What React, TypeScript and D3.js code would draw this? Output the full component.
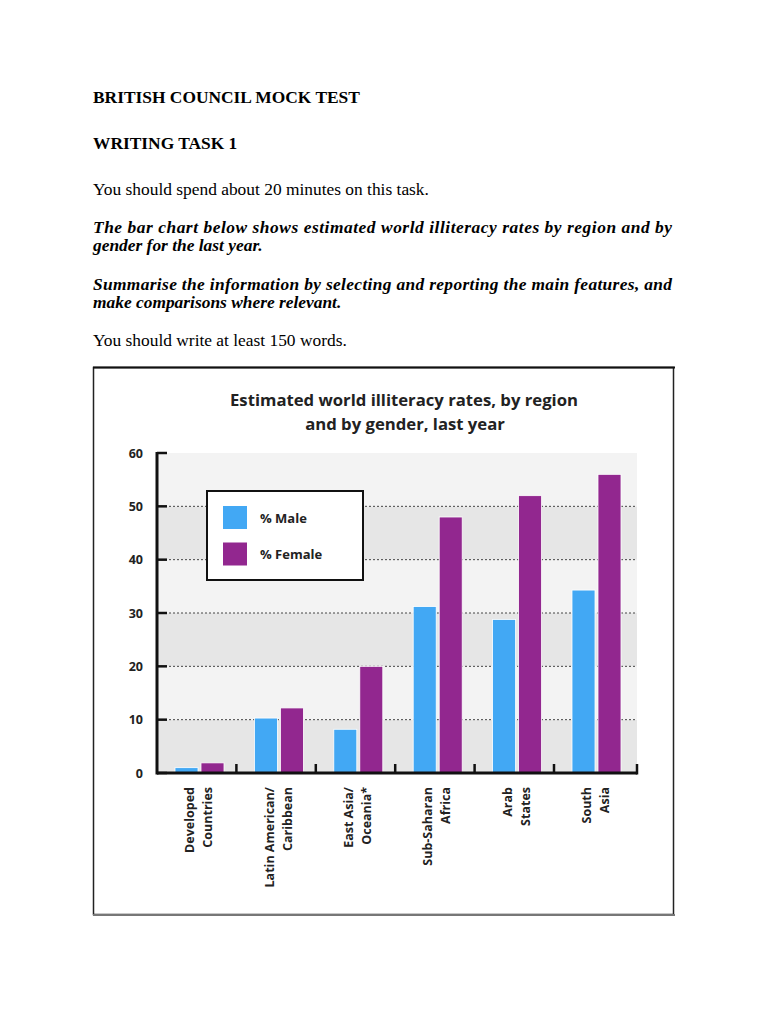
import React from 'react';
import * as d3 from 'd3';

// chart data
const regions = [
  ['Developed', 'Countries'],
  ['Latin American/', 'Caribbean'],
  ['East Asia/', 'Oceania*'],
  ['Sub-Saharan', 'Africa'],
  ['Arab', 'States'],
  ['South', 'Asia'],
];
const maleRates = [1, 10.3, 8.2, 31.2, 28.8, 34.3];
const femaleRates = [1.9, 12.2, 20, 48, 52, 56];
const seriesNames = ['% Male', '% Female'];
const seriesColors = ['#42a8f4', '#92278f'];
const yTicks = [0, 10, 20, 30, 40, 50, 60];

const serif = '"Liberation Serif", "Times New Roman", serif';
const sans = '"Open Sans", "Noto Sans", sans-serif';

const plot = { left: 157, right: 637, top: 453, bottom: 773 };

export default function App() {
  const keys = regions.map(r => r.join(' '));

  const x = d3.scaleBand<string>()
    .domain(keys)
    .range([plot.left, plot.left + 79.4 * regions.length]);

  const xInner = d3.scaleBand<string>()
    .domain(seriesNames)
    .range([18, 67])
    .paddingInner(0.115);

  const y = d3.scaleLinear().domain([0, 60]).range([plot.bottom, plot.top]);

  const bands = d3.range(0, 60, 10);
  const series = [maleRates, femaleRates];

  return (
    <svg
      width={768}
      height={1024}
      style={{ position: 'absolute', left: 0, top: 0, background: '#fff' }}
    >
      {/* worksheet text */}
      <g fontFamily={serif} fontSize={17.4} fill="#000">
        <text x={93} y={103} fontWeight="bold">BRITISH COUNCIL MOCK TEST</text>
        <text x={93} y={148.5} fontWeight="bold">WRITING TASK 1</text>
        <text x={93} y={194.5}>You should spend about 20 minutes on this task.</text>
        <g fontWeight="bold" fontStyle="italic">
          <text x={93} y={233} textLength={579} lengthAdjust="spacing">
            The bar chart below shows estimated world illiteracy rates by region and by
          </text>
          <text x={93} y={251}>gender for the last year.</text>
          <text x={93} y={289.5} textLength={579} lengthAdjust="spacing">
            Summarise the information by selecting and reporting the main features, and
          </text>
          <text x={93} y={307.5}>make comparisons where relevant.</text>
        </g>
        <text x={93} y={345.5}>You should write at least 150 words.</text>
      </g>

      {/* chart frame */}
      <rect x={93.5} y={367.5} width={580} height={547} fill="#fff" stroke="#222" strokeWidth={1.5} />
      <line x1={93} x2={675} y1={367.5} y2={367.5} stroke="#111" strokeWidth={2} />
      <line x1={93} x2={675} y1={915} y2={915} stroke="#777" strokeWidth={2} />

      {/* title */}
      <g fontFamily={sans} fontWeight={700} fontSize={16.7} fill="#222" textAnchor="middle">
        <text x={404} y={405.5}>Estimated world illiteracy rates, by region</text>
        <text x={405} y={429.5}>and by gender, last year</text>
      </g>

      {/* striped plot background */}
      {bands.map((v, i) => (
        <rect
          key={v}
          x={plot.left}
          width={plot.right - plot.left}
          y={y(v + 10)}
          height={y(v) - y(v + 10)}
          fill={i % 2 === 0 ? '#e6e6e6' : '#f3f3f3'}
        />
      ))}

      {/* dotted gridlines */}
      {yTicks.slice(1, -1).map(t => (
        <line
          key={t}
          x1={plot.left}
          x2={plot.right}
          y1={y(t)}
          y2={y(t)}
          stroke="#444"
          strokeWidth={1}
          strokeDasharray="2,2"
        />
      ))}

      {/* bars */}
      {keys.map((k, i) => (
        <g key={k} transform={`translate(${x(k)},0)`}>
          {series.map((vals, s) => (
            <rect
              key={s}
              x={xInner(seriesNames[s])}
              width={xInner.bandwidth()}
              y={y(vals[i])}
              height={y(0) - y(vals[i])}
              fill={seriesColors[s]}
              stroke="#fff"
              strokeWidth={0.8}
            />
          ))}
        </g>
      ))}

      {/* y axis */}
      <line x1={plot.left} x2={plot.left} y1={plot.top - 1} y2={plot.bottom + 1.5} stroke="#111" strokeWidth={3} />
      {yTicks.map(t => (
        <g key={t}>
          <line x1={plot.left} x2={plot.left + 10} y1={y(t)} y2={y(t)} stroke="#111" strokeWidth={2.5} />
          <text
            x={143}
            y={y(t) + 4.5}
            textAnchor="end"
            fontFamily={sans}
            fontWeight={700}
            fontSize={12.5}
            fill="#222"
          >
            {t}
          </text>
        </g>
      ))}

      {/* x axis */}
      <line x1={plot.left} x2={plot.right} y1={plot.bottom} y2={plot.bottom} stroke="#111" strokeWidth={3} />
      {keys.slice(1).map(k => (
        <line key={k} x1={x(k)} x2={x(k)} y1={plot.bottom} y2={plot.bottom - 9} stroke="#111" strokeWidth={2.5} />
      ))}
      <line x1={plot.right} x2={plot.right} y1={plot.bottom + 1.5} y2={plot.bottom - 9} stroke="#111" strokeWidth={2.5} />

      {/* category labels, rotated */}
      {regions.map((lines, i) => {
        const cx = (x(keys[i]) as number) + x.bandwidth() / 2;
        return (
          <text
            key={keys[i]}
            transform={`translate(${cx},787) rotate(-90)`}
            textAnchor="end"
            fontFamily={sans}
            fontWeight={700}
            fontSize={12.5}
            fill="#222"
          >
            <tspan x={0} y={-2.5}>{lines[0]}</tspan>
            <tspan x={0} y={15.5}>{lines[1]}</tspan>
          </text>
        );
      })}

      {/* legend */}
      <rect x={207} y={491} width={156} height={89} fill="#fff" stroke="#111" strokeWidth={2} />
      {seriesNames.map((name, s) => (
        <g key={name} transform={`translate(223,${506 + s * 36.5})`}>
          <rect width={24} height={23} fill={seriesColors[s]} />
          <text x={37} y={16.5} fontFamily={sans} fontWeight={700} fontSize={13} fill="#222">
            {name}
          </text>
        </g>
      ))}
    </svg>
  );
}
